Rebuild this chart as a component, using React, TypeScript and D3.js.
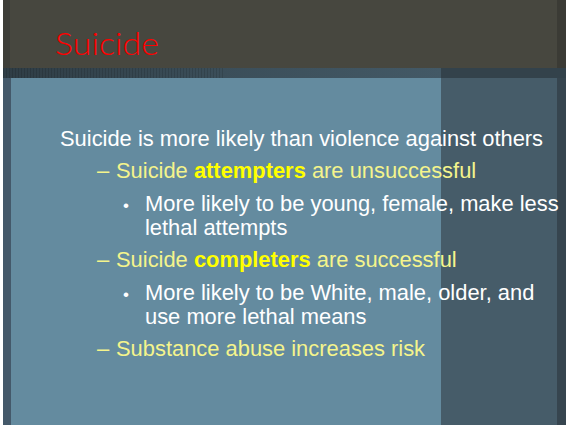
import * as React from 'react';
import * as d3 from 'd3';

const title = 'Suicide';

// each line: level (0 = main, 1 = dash, 2 = bullet), wrapped continuation flag, text segments
const lineLevels = [0, 1, 2, 2, 1, 2, 2, 1];
const lineWrapped = [false, false, false, true, false, false, true, false];
const lineSegments: { t: string; bold?: boolean }[][] = [
  [{ t: 'Suicide is more likely than violence against others' }],
  [{ t: 'Suicide ' }, { t: 'attempters', bold: true }, { t: ' are unsuccessful' }],
  [{ t: 'More likely to be young, female, make less' }],
  [{ t: 'lethal attempts' }],
  [{ t: 'Suicide ' }, { t: 'completers', bold: true }, { t: ' are successful' }],
  [{ t: 'More likely to be White, male, older, and' }],
  [{ t: 'use more lethal means' }],
  [{ t: 'Substance abuse increases risk' }],
];

const W = 566;
const H = 425;

const App: React.FC = () => {
  // vertical layout: paragraph gap vs wrapped gap
  const paraGap = 32.4;
  const wrapGap = 24;
  const offsets: number[] = [];
  lineWrapped.reduce((acc, w, i) => {
    const v = i === 0 ? 0 : acc + (w ? wrapGap : paraGap);
    offsets.push(v);
    return v;
  }, 0);
  const y = d3.scaleLinear().domain([0, 1]).range([146, 147]);
  const indent = d3.scaleOrdinal<number, number>().domain([0, 1, 2]).range([60, 116, 145]);
  const markerX = d3.scaleOrdinal<number, number>().domain([1, 2]).range([97, 123]);
  const textColor = (level: number) => (level === 0 || level === 2 ? '#ffffff' : '#f4f48c');

  return (
    <svg width={W} height={H} style={{ position: 'absolute', left: 0, top: 0 }}>
      <defs>
        <linearGradient id="band" x1="0" x2="1" y1="0" y2="0">
          <stop offset="0" stopColor="#2f3d45" />
          <stop offset="0.5" stopColor="#3b4e59" />
          <stop offset="1" stopColor="#435966" />
        </linearGradient>
        <pattern id="tex" width="3" height="3" patternUnits="userSpaceOnUse">
          <rect width="3" height="3" fill="none" />
          <rect width="1" height="3" fill="#000" opacity="0.12" />
        </pattern>
      </defs>
      <rect width={W} height={H} fill="#ffffff" />
      {/* main panels */}
      <rect x={3} y={0} width={W - 3} height={H} fill="#648b9f" />
      <rect x={441} y={68} width={W - 441} height={H - 68} fill="#465c69" />
      <rect x={3} y={68} width={8} height={H - 68} fill="#44596a" />
      <rect x={557} y={68} width={W - 557} height={H - 68} fill="#36454f" />
      {/* top bar */}
      <rect x={3} y={0} width={W - 3} height={68} fill="#47473f" />
      <rect x={3} y={0} width={7} height={68} fill="#3e3e38" />
      <rect x={557} y={0} width={W - 557} height={68} fill="#3b3b35" />
      {/* textured band */}
      <rect x={3} y={68} width={438} height={10} fill="url(#band)" />
      <rect x={3} y={68} width={220} height={10} fill="url(#tex)" />
      <rect x={441} y={68} width={W - 441} height={10} fill="#33424b" />

      <text
        x={55}
        y={55}
        fill="#ff0000"
        fontFamily="Lato, 'DejaVu Sans', sans-serif"
        fontWeight={300}
        fontSize={32}
        textLength={104}
        lengthAdjust="spacingAndGlyphs"
      >
        {title}
      </text>

      <g fontFamily="'Liberation Sans', Arial, sans-serif" fontSize={21.9}>
        {lineSegments.map((segs, i) => {
          const level = lineLevels[i];
          const yy = y(offsets[i]);
          const color = textColor(level);
          return (
            <g key={i}>
              {level > 0 && !lineWrapped[i] && (
                <text x={markerX(level)} y={yy} fill={color} fontSize={level === 2 ? 17 : 22}>
                  {level === 1 ? '–' : '•'}
                </text>
              )}
              <text x={indent(level)} y={yy} fill={color}>
                {segs.map((s, j) => (
                  <tspan key={j} fontWeight={s.bold ? 'bold' : 'normal'} fill={s.bold ? '#ffff00' : color}>
                    {s.t}
                  </tspan>
                ))}
              </text>
            </g>
          );
        })}
      </g>
    </svg>
  );
};

export default App;
